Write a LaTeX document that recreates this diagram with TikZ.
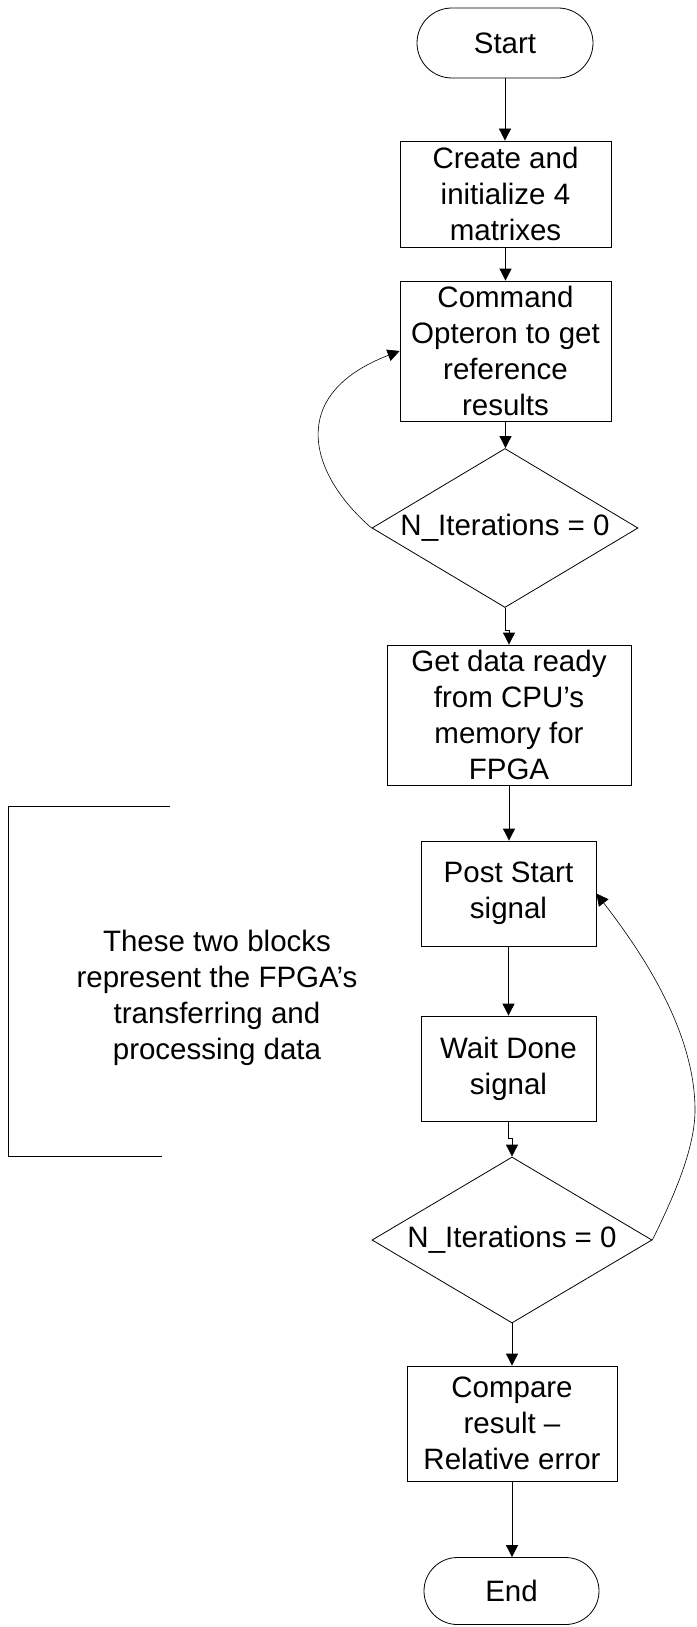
\documentclass[tikz,border=0pt]{standalone}
\usepackage{fontspec}
\setmainfont{Liberation Sans}
\usetikzlibrary{shapes.geometric,arrows.meta}
\begin{document}
\begin{tikzpicture}[x=1pt,y=-1pt,
  every node/.style={font=\fontsize{29.5}{36}\selectfont, align=center, inner sep=0pt},
  proc/.style={draw, line width=0.8pt, rectangle},
  term/.style={draw, line width=0.8pt, rectangle},
  dec/.style={draw, line width=0.8pt, diamond},
  conn/.style={line width=0.8pt, -{Triangle[length=12pt,width=12pt]}},
  bracketline/.style={line width=0.9pt}]
\useasboundingbox (0,0) rectangle (696,1627);
\node[term, rounded corners=35pt, minimum width=176pt, minimum height=70pt] (start) at (505,43) {Start};
\node[proc, minimum width=211pt, minimum height=106pt] (create) at (505.5,194) {Create and\\initialize 4\\matrixes};
\node[proc, minimum width=211pt, minimum height=140pt] (command) at (505.5,351) {Command\\Opteron to get\\reference\\results};
\node[dec, minimum width=266pt, minimum height=159pt, label={center:N\_Iterations = 0}] (dec1) at (505,528) {};
\node[proc, minimum width=244pt, minimum height=140pt] (get) at (509,715) {Get data ready\\from CPU’s\\memory for\\FPGA};
\node[proc, minimum width=175pt, minimum height=105pt] (post) at (508.5,893.5) {Post Start\\signal};
\node[proc, minimum width=175pt, minimum height=105pt] (wait) at (508.5,1068.5) {Wait Done\\signal};
\node[dec, minimum width=280pt, minimum height=166pt, label={center:N\_Iterations = 0}] (dec2) at (512,1240) {};
\node[proc, minimum width=210pt, minimum height=115pt] (compare) at (512,1423.5) {Compare\\result –\\Relative error};
\node[term, rounded corners=33.5pt, minimum width=175pt, minimum height=67pt] (end) at (511.5,1591) {End};
\node (note) at (217,998) {These two blocks\\represent the FPGA’s\\transferring and\\processing data};
% bracket
\coordinate (bt) at (170,806);
\coordinate (bb) at (162,1156);
\draw[bracketline] (bt) -- (8,806) -- (8,1156) -- (bb);
% connectors
\draw[conn] (start.south) -- (start.south |- create.north);
\draw[conn] (create.south) -- (create.south |- command.north);
\draw[conn] (command.south) -- (command.south |- dec1.north);
\draw[conn] (dec1.south) -- ++(0,22) -| (get.north);
\draw[conn] (get.south) -- (get.south |- post.north);
\draw[conn] (post.south) -- (post.south |- wait.north);
\draw[conn] (wait.south) -- ++(0,17) -| (dec2.north);
\draw[conn] (dec2.south) -- (dec2.south |- compare.north);
\draw[conn] (compare.south) -- (compare.south |- end.north);
\draw[conn, line width=0.6pt] (dec1.west) .. controls (310,475) and (285,395) .. (command.west);
\draw[conn, line width=0.6pt] (dec2.east) .. controls (672,1200) and (695,1150) .. (695,1110) .. controls (695,1030) and (640,950) .. (post.east);
\end{tikzpicture}
\end{document}
